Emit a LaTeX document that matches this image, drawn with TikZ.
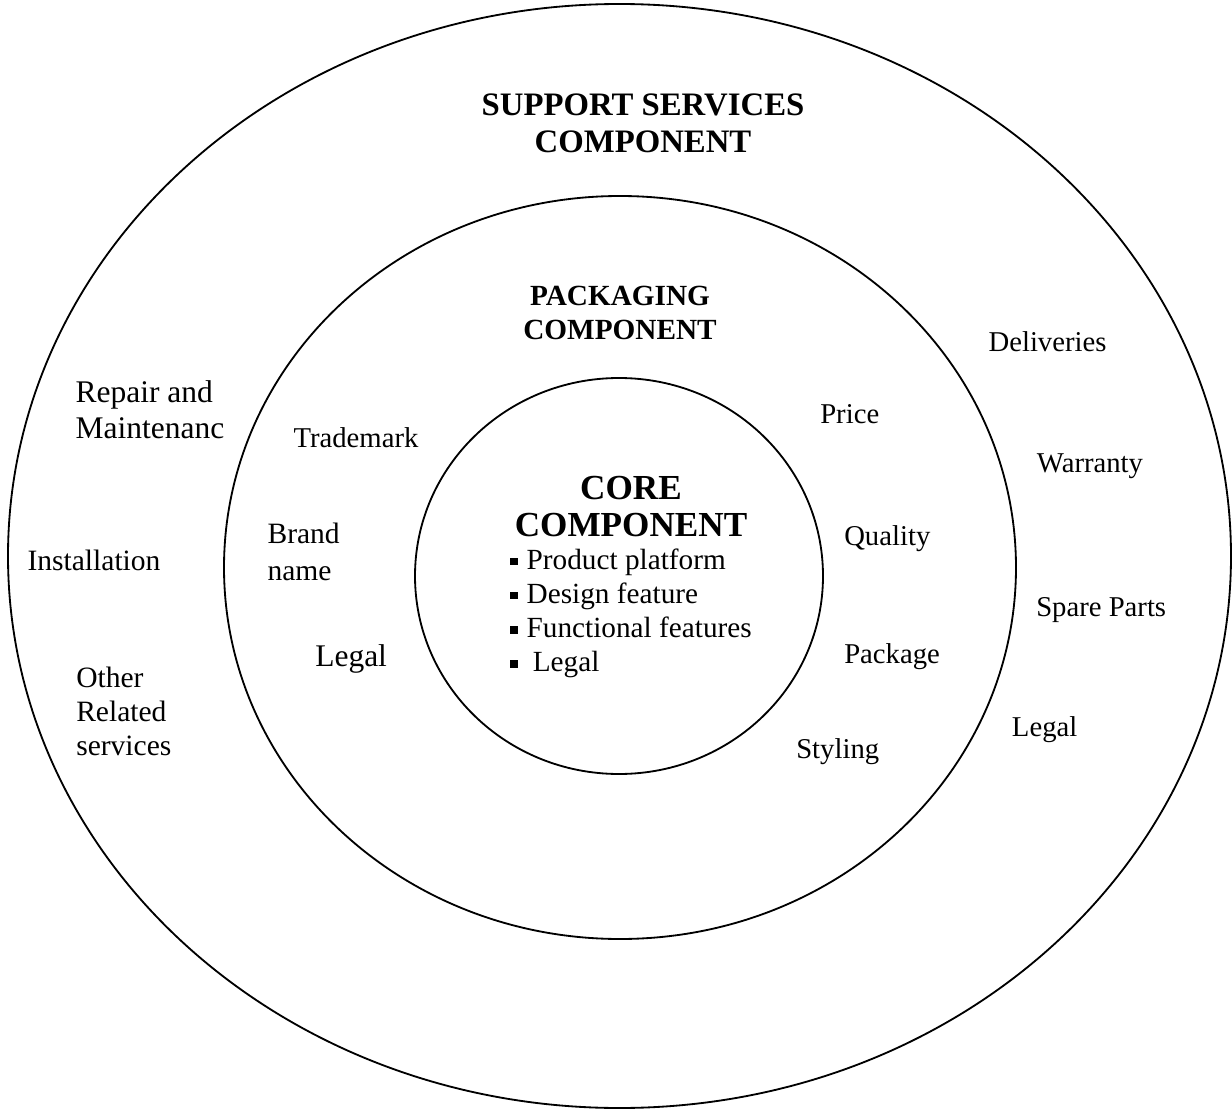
\documentclass[tikz,border=0pt]{standalone}
\usepackage{fontspec}
\setmainfont{Liberation Serif}

\newcommand{\sqbullet}{\rule[2.8pt]{5.3pt}{5.3pt}}

\begin{document}
\begin{tikzpicture}[x=0.025cm,y=-0.025cm,
  ring/.style={line width=1.3pt},
  every node/.style={inner sep=0pt,anchor=base west,align=left},
  head/.style={anchor=base,align=center},
  lblbig/.style={font=\fontsize{22.4}{25.6}\selectfont},
  lbl/.style={font=\fontsize{21}{24}\selectfont},
  lblsm/.style={font=\fontsize{20.4}{24}\selectfont}]
\useasboundingbox (0,0) rectangle (1232,1110);
% the three rings
\draw[ring] (619.5,556) ellipse (611.5 and 552);
\draw[ring] (620,567.5) ellipse (396 and 371.5);
\draw[ring] (619,576) ellipse (204 and 198);
% headings (base = last line)
\node[head,font=\bfseries\fontsize{23.3}{26.8}\selectfont] (support) at (643,152.7) {SUPPORT SERVICES\\COMPONENT};
\node[head,font=\bfseries\fontsize{20.8}{23.7}\selectfont] (packaging) at (620,339.3) {PACKAGING\\COMPONENT};
\node[head,font=\bfseries\fontsize{25}{26.1}\selectfont] (core) at (631,536.7) {CORE\\COMPONENT};
\node[font=\fontsize{20.8}{24.3}\selectfont] (bullets) at (510,671.7)
  {\sqbullet\hspace{6.4pt}Product platform\\
   \sqbullet\hspace{6.4pt}Design feature\\
   \sqbullet\hspace{6.4pt}Functional features\\
   \sqbullet\hspace{10.7pt}Legal};
% support services ring
\node[lblbig] (repair) at (75.3,438.7) {Repair and\\Maintenanc};
\node[lbl] (install) at (27.3,570.7) {Installation};
\node[lbl] (other) at (76,755) {Other\\Related\\services};
\node[lblsm] (deliveries) at (988.3,351.7) {Deliveries};
\node[lblsm] (warranty) at (1036.7,472.7) {Warranty};
\node[lblsm] (spare) at (1036,616) {Spare Parts};
\node[lblsm] (legals) at (1011.7,736.7) {Legal};
% packaging ring
\node[lblsm] (trademark) at (293.3,447.3) {Trademark};
\node[lbl,font=\fontsize{21}{26.1}\selectfont] (brand) at (267.3,580) {Brand\\name};
\node[lblbig] (legalp) at (315,666.7) {Legal};
\node[lblsm] (price) at (820,423.3) {Price};
\node[lblsm] (quality) at (844,545) {Quality};
\node[lblsm] (package) at (844,663.3) {Package};
\node[lblsm] (styling) at (796,758.3) {Styling};
\end{tikzpicture}
\end{document}
